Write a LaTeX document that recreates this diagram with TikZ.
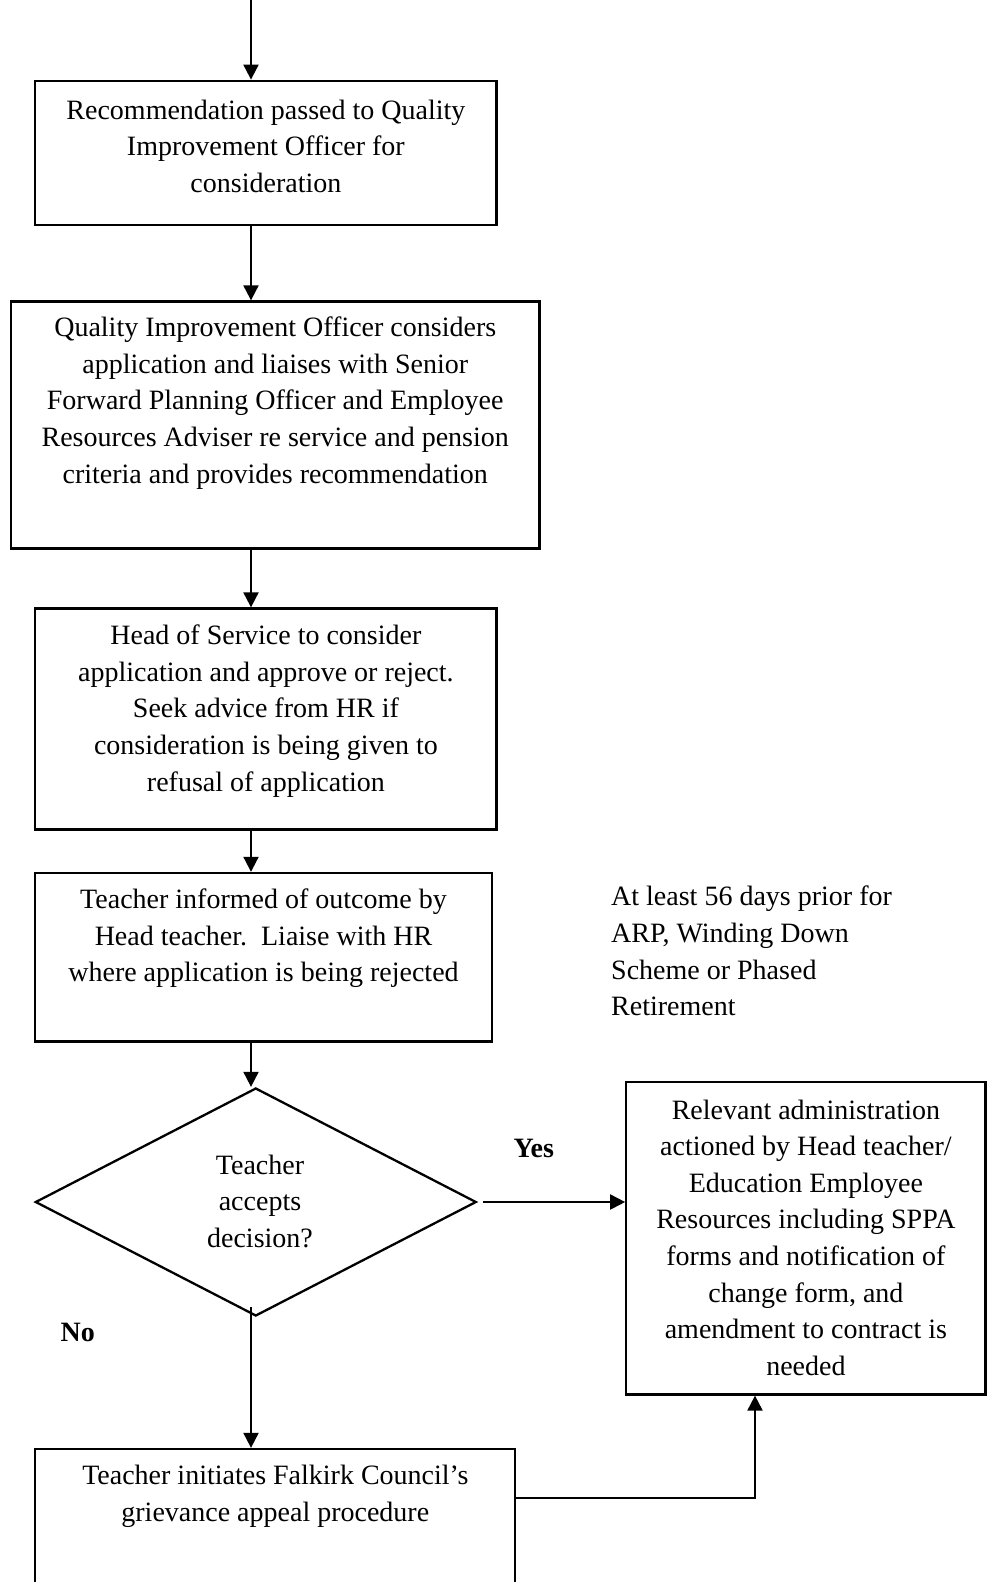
\documentclass[tikz,border=0pt]{standalone}
\usepackage{fontspec}
\setmainfont{Liberation Serif}
\usetikzlibrary{shapes.geometric,arrows.meta,calc}
\begin{document}
\begin{tikzpicture}[x=1pt,y=-1pt,
  box/.style={draw, line width=2.3pt, rectangle, inner sep=0pt},
  dia/.style={draw, line width=2.3pt, diamond, inner sep=0pt, minimum width=441pt, minimum height=228pt},
  txt/.style={align=center, font=\fontsize{28}{36.6}\selectfont, inner sep=0pt},
  sidetxt/.style={align=left, font=\fontsize{28}{36.6}\selectfont, inner sep=0pt, anchor=west},
  arr/.style={line width=2pt, -{Triangle[width=15pt,length=15pt]}},
  lbl/.style={font=\fontsize{28}{34}\selectfont\bfseries, inner sep=0pt}]
\useasboundingbox (0,0) rectangle (992,1582);
\clip (0,0) rectangle (992,1582);

% boxes
\node[box, minimum width=461.2pt, minimum height=144.3pt] (b1) at (265.9,152.9) {};
\node[box, minimum width=528.5pt, minimum height=247pt] (b2) at (275.25,425) {};
\node[box, minimum width=461.2pt, minimum height=221pt] (b3) at (265.9,719) {};
\node[box, minimum width=456.5pt, minimum height=168.5pt] (b4) at (263.5,957.2) {};
\node[dia] (d) at (255.8,1202) {};
\node[box, minimum width=359.2pt, minimum height=312.5pt] (b5) at (805.9,1238.2) {};
\node[box, minimum width=480pt, minimum height=171pt] (b6) at (275.3,1534.5) {};

% texts
\node[txt] (t1) at (265.9,146.3) {Recommendation passed to Quality\\Improvement Officer for\\consideration};
\node[txt] (t2) at (275.25,403) {Quality Improvement Officer considers\\application and liaises with Senior\\Forward Planning Officer and Employee\\Resources Adviser re service and pension\\criteria and provides recommendation};
\node[txt] (t3) at (265.9,711) {Head of Service to consider\\application and approve or reject.\\Seek advice from HR if\\consideration is being given to\\refusal of application};
\node[txt] (t4) at (263.5,938.5) {Teacher informed of outcome by\\Head teacher.\ \ Liaise with HR\\where application is being rejected};
\node[txt] (td) at (260,1201.3) {Teacher\\accepts\\decision?};
\node[txt] (t5) at (805.9,1237.7) {Relevant administration\\actioned by Head teacher/\\Education Employee\\Resources including SPPA\\forms and notification of\\change form, and\\amendment to contract is\\needed};
\node[txt] (t6) at (275.3,1496) {Teacher initiates Falkirk Council’s\\grievance appeal procedure};
\node[sidetxt] (side) at (611,951) {At least 56 days prior for\\ARP, Winding Down\\Scheme or Phased\\Retirement};
\node[lbl] (yes) at (533.8,1148) {Yes};
\node[lbl] (no) at (77.7,1332) {No};

% connectors
\coordinate (top) at (251,0);
\coordinate (j) at (755,1497.5);
\draw[arr] (top) -- (top |- b1.north);
\draw[arr] (b1.south -| top) -- (b2.north -| top);
\draw[arr] (b2.south -| top) -- (b3.north -| top);
\draw[arr] (b3.south -| top) -- (b4.north -| top);
\draw[arr] (b4.south -| top) -- (d.north -| top);
\draw[arr] ([yshift=10pt]d.south -| top) -- (b6.north -| top);
\draw[arr] ([xshift=6pt]d.east) -- (b5.west |- d.east);
\draw[arr] (b6.east |- j) -| (b5.south -| j);
\end{tikzpicture}
\end{document}
